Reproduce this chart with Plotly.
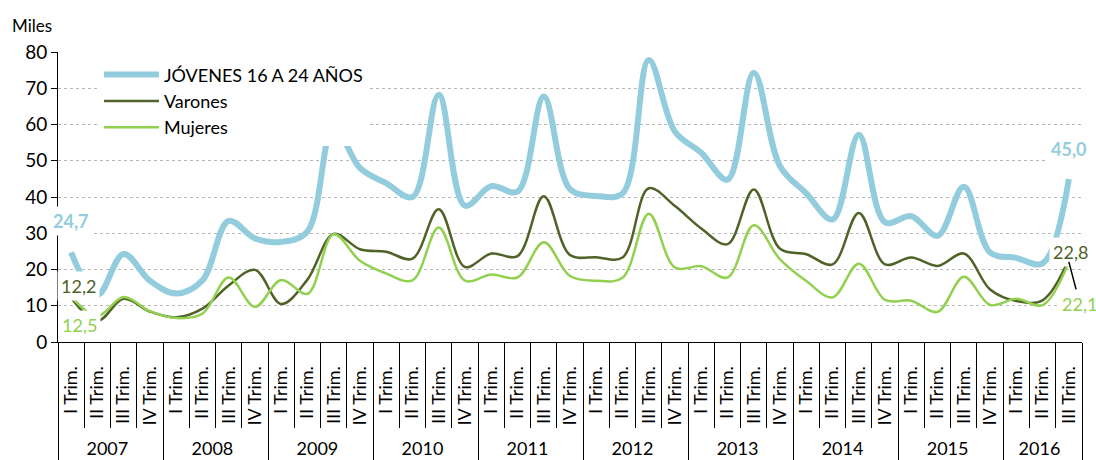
import plotly.graph_objects as go

# ---- data -------------------------------------------------------------
years = ["2007", "2008", "2009", "2010", "2011", "2012", "2013", "2014", "2015", "2016"]
quarters = ["I Trim.", "II Trim.", "III Trim.", "IV Trim."]
quarters_last_year = 3

jovenes = [24.7, 13.0, 24.3, 16.9, 13.4, 17.0, 33.4, 28.6, 27.6, 30.5,
           59.5, 48.0, 43.8, 40.0, 68.2, 37.6, 43.0, 41.5, 67.7, 42.2,
           40.3, 41.0, 77.8, 58.0, 52.2, 44.8, 74.3, 48.5, 41.0, 33.8,
           57.2, 33.0, 34.7, 29.3, 42.8, 24.7, 23.2, 21.7, 45.0]
varones = [12.2, 5.8, 11.9, 8.4, 6.8, 9.2, 15.6, 19.9, 10.5, 17.2,
           29.8, 25.6, 24.9, 23.0, 36.6, 20.7, 24.4, 23.7, 40.2, 24.0,
           23.4, 23.3, 42.4, 37.5, 31.3, 27.0, 42.1, 25.7, 24.2, 21.4,
           35.6, 21.4, 23.3, 21.0, 24.4, 14.5, 11.3, 11.5, 22.8]
mujeres = [12.5, 7.2, 12.4, 8.5, 6.6, 7.8, 17.8, 9.7, 17.1, 13.3,
           29.7, 22.4, 18.9, 17.0, 31.6, 16.9, 18.6, 17.8, 27.5, 18.2,
           16.9, 17.7, 35.4, 20.5, 20.9, 17.8, 32.2, 22.8, 16.8, 12.3,
           21.6, 11.6, 11.4, 8.3, 18.0, 10.2, 11.9, 10.2, 22.1]

names = ["JÓVENES 16 A 24 AÑOS", "Varones", "Mujeres"]
y_ticks = [0, 10, 20, 30, 40, 50, 60, 70, 80]

# ---- categories ---------------------------------------------------------
PAD = "\u2002\u2009"   # visual padding below rotated quarter labels
x_year, x_q = [], []
for yi, yr in enumerate(years):
    qs = quarters if yi < len(years) - 1 else quarters[:quarters_last_year]
    for q in qs:
        x_year.append(yr)
        x_q.append(PAD + q)
xcat = [x_year, x_q]
n_cat = len(x_q)
xrange = [-0.5, n_cat - 0.5]

FONT = "Lato, 'Open Sans', sans-serif"
C_BLUE = "#93CDDD"
C_OLIVE = "#4F6228"
C_GREEN = "#92D050"

fig = go.Figure()
# invisible helper trace that carries the long quarter separator ticks
fig.add_trace(go.Scatter(x=xcat, y=jovenes, xaxis="x2", mode="lines",
                         line=dict(width=0), opacity=0, showlegend=False,
                         hoverinfo="skip"))
fig.add_trace(go.Scatter(x=xcat, y=jovenes, name=names[0], mode="lines",
                         line=dict(color=C_BLUE, width=6, shape="spline", smoothing=1.0)))
fig.add_trace(go.Scatter(x=xcat, y=varones, name=names[1], mode="lines",
                         line=dict(color=C_OLIVE, width=2.5, shape="spline", smoothing=1.0)))
fig.add_trace(go.Scatter(x=xcat, y=mujeres, name=names[2], mode="lines",
                         line=dict(color=C_GREEN, width=2.5, shape="spline", smoothing=1.0)))

def fmt(v):
    return f"{v:.1f}".replace(".", ",")

n = len(jovenes) - 1
ann = [
    dict(x=0, y=jovenes[0], text=fmt(jovenes[0]), font=dict(color=C_BLUE, size=18, family=FONT, weight="bold"),
         xshift=0, yshift=31),
    dict(x=0, y=varones[0], text=fmt(varones[0]), font=dict(color=C_OLIVE, size=18, family=FONT),
         xshift=7, yshift=12),
    dict(x=0, y=mujeres[0], text=fmt(mujeres[0]), font=dict(color=C_GREEN, size=18, family=FONT),
         xshift=8, yshift=-28),
    dict(x=n, y=jovenes[n], text=fmt(jovenes[n]), font=dict(color=C_BLUE, size=18, family=FONT, weight="bold"),
         xshift=0, yshift=30),
    dict(x=n, y=varones[n], text=fmt(varones[n]), font=dict(color=C_OLIVE, size=18, family=FONT),
         xshift=2, yshift=7),
]
annotations = []
for a in ann:
    a.update(xref="x", yref="y", showarrow=False, bgcolor="white", borderpad=3)
    annotations.append(a)
annotations.append(dict(x=n, y=mujeres[n], xref="x", yref="y", text=fmt(mujeres[n]),
                        font=dict(color=C_GREEN, size=18, family=FONT),
                        showarrow=True, arrowhead=0, arrowwidth=1.5, arrowcolor="black",
                        ax=11, ay=42, standoff=0, bgcolor="white", borderpad=3))
annotations.append(dict(xref="paper", yref="paper", x=-0.047, y=1.093, xanchor="left",
                        yanchor="middle", text="Miles", showarrow=False,
                        font=dict(size=17, family=FONT, color="black")))

fig.update_layout(
    template="none",
    width=1096, height=460,
    margin=dict(l=58, r=14, t=52, b=118, autoexpand=False),
    paper_bgcolor="white", plot_bgcolor="white",
    font=dict(family=FONT, size=18, color="black"),
    showlegend=True,
    legend=dict(x=0.04, y=0.985, xanchor="left", yanchor="top", bgcolor="white",
                borderwidth=0, font=dict(size=18, family=FONT, color="black"),
                itemwidth=55, tracegroupgap=0),
    annotations=annotations,
    xaxis=dict(type="multicategory", range=xrange, autorange=False, automargin=False,
               showline=True, linecolor="black", linewidth=1,
               ticks="", ticklabelstandoff=16,
               tickangle=-90, tickfont=dict(size=18, family=FONT, color="black"),
               showdividers=True, dividercolor="black", dividerwidth=1,
               showgrid=False, zeroline=False),
    xaxis2=dict(type="multicategory", range=xrange, autorange=False, automargin=False,
                overlaying="x", anchor="y", side="bottom",
                showticklabels=False, ticks="outside", ticklen=85, tickcolor="black",
                tickwidth=1, showdividers=False, showgrid=False, showline=False,
                zeroline=False),
    yaxis=dict(range=[0, 80], autorange=False, automargin=False, tickvals=y_ticks,
               showline=True, linecolor="black",
               linewidth=1, ticks="outside", ticklen=6, tickcolor="black",
               showgrid=True, gridcolor="#B8B8B8", griddash="dot", gridwidth=1,
               zeroline=False, tickfont=dict(size=19, family=FONT, color="black")),
)

fig.write_html("out.html",
               config={"displayModeBar": False},
               post_script="document.body.style.margin='0';document.body.style.overflow='hidden';")
